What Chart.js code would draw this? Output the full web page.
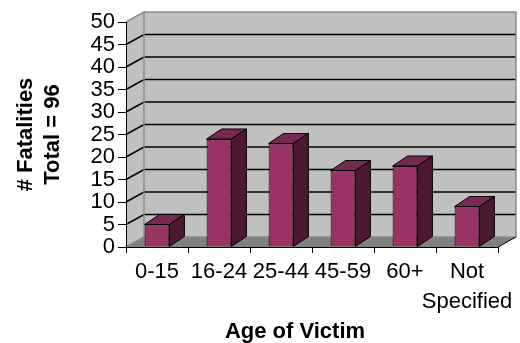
<!DOCTYPE html>
<html>
<head>
<meta charset="utf-8">
<script src="https://cdn.jsdelivr.net/npm/chart.js@4/dist/chart.umd.min.js"></script>
<style>
  html, body { margin: 0; padding: 0; background: #ffffff; }
  #wrap { width: 520px; height: 343px; }
</style>
</head>
<body>
<div id="wrap"><canvas id="chart" width="520" height="343"></canvas></div>
<script>
// Fatalities by age group of victim
const categories = ['0-15', '16-24', '25-44', '45-59', '60+', ['Not', 'Specified']];
const fatalities = [5, 24, 23, 17, 18, 9];
const yTitleLines = ['# Fatalities', 'Total = 96'];
const xTitle = 'Age of Victim';
const yMin = 0, yMax = 50, yStep = 5;

const FONT = '"Liberation Sans", Arial, sans-serif';
Chart.defaults.font.family = FONT;
Chart.defaults.color = '#000000';

// depth of the 3-D box (walls) and of each bar
const WALL = { dx: 18, dy: -10 };
const BAR = { dx: 15, dy: -10 };

function poly(ctx, pts, fill, stroke, lw) {
  ctx.beginPath();
  ctx.moveTo(pts[0][0], pts[0][1]);
  for (let i = 1; i < pts.length; i++) ctx.lineTo(pts[i][0], pts[i][1]);
  ctx.closePath();
  if (fill) { ctx.fillStyle = fill; ctx.fill(); }
  if (stroke) { ctx.strokeStyle = stroke; ctx.lineWidth = lw || 1; ctx.stroke(); }
}

const box3d = {
  id: 'box3d',
  beforeDraw(chart) {
    const { ctx, chartArea: { left, right, top, bottom }, scales: { y } } = chart;
    const dx = WALL.dx, dy = WALL.dy;
    ctx.save();
    // left side wall
    poly(ctx, [[left, top], [left + dx, top + dy], [left + dx, bottom + dy], [left, bottom]], '#c0c0c0', null);
    // back wall
    poly(ctx, [[left + dx, top + dy], [right + dx, top + dy], [right + dx, bottom + dy], [left + dx, bottom + dy]], '#c0c0c0', null);
    // floor
    poly(ctx, [[left, bottom], [right, bottom], [right + dx, bottom + dy], [left + dx, bottom + dy]], '#808080', null);

    // gridlines on both walls
    ctx.strokeStyle = '#000000';
    ctx.lineWidth = 1.5;
    for (let v = yMin + yStep; v < yMax; v += yStep) {
      const py = y.getPixelForValue(v);
      ctx.beginPath();
      ctx.moveTo(left, py);
      ctx.lineTo(left + dx, py + dy);
      ctx.lineTo(right + dx, py + dy);
      ctx.stroke();
    }

    // wall edges
    ctx.strokeStyle = '#8a8a8a';
    ctx.lineWidth = 1.5;
    ctx.beginPath();
    ctx.moveTo(left, top);
    ctx.lineTo(left + dx, top + dy);
    ctx.lineTo(right + dx, top + dy);
    ctx.lineTo(right + dx, bottom + dy);
    ctx.moveTo(left + dx, top + dy);
    ctx.lineTo(left + dx, bottom + dy);
    ctx.lineTo(left, bottom);
    ctx.moveTo(left + dx, bottom + dy);
    ctx.lineTo(right + dx, bottom + dy);
    ctx.stroke();

    // right edge of the floor
    ctx.strokeStyle = '#000000';
    ctx.lineWidth = 1;
    ctx.beginPath();
    ctx.moveTo(right, bottom);
    ctx.lineTo(right + dx, bottom + dy);
    ctx.stroke();
    ctx.restore();
  },
  afterDatasetsDraw(chart) {
    const { ctx } = chart;
    const meta = chart.getDatasetMeta(0);
    ctx.save();
    ctx.lineJoin = 'miter';
    meta.data.forEach(bar => {
      const { x, y, base, width } = bar.getProps(['x', 'y', 'base', 'width'], true);
      const l = x - width / 2, r = x + width / 2;
      // top face
      poly(ctx, [[l, y], [l + BAR.dx, y + BAR.dy], [r + BAR.dx, y + BAR.dy], [r, y]], '#782855', '#000000', 1);
      // side face
      poly(ctx, [[r, y], [r + BAR.dx, y + BAR.dy], [r + BAR.dx, base + BAR.dy], [r, base]], '#4b1932', '#000000', 1);
    });
    ctx.restore();
  },
  afterDraw(chart) {
    const { ctx } = chart;
    ctx.save();
    ctx.font = 'bold 22px ' + FONT;
    ctx.fillStyle = '#000000';
    ctx.textAlign = 'center';
    ctx.textBaseline = 'middle';
    ctx.fillText(xTitle, 295, 332);
    ctx.restore();
  }
};

new Chart(document.getElementById('chart'), {
  type: 'bar',
  data: {
    labels: categories,
    datasets: [{
      data: fatalities,
      backgroundColor: '#993366',
      borderColor: '#000000',
      borderWidth: 1,
      barPercentage: 0.4,
      categoryPercentage: 1.0
    }]
  },
  options: {
    responsive: false,
    animation: false,
    layout: { padding: { top: 22, right: 22, left: 0, bottom: 0 } },
    plugins: { legend: { display: false }, tooltip: { enabled: false }, title: { display: false } },
    scales: {
      x: {
        offset: true,
        grid: { display: true, drawOnChartArea: false, drawTicks: true, tickLength: 6, color: '#000000', offset: true },
        border: { display: true, color: '#000000', width: 1 },
        ticks: { color: '#000000', padding: 4, maxRotation: 0, autoSkip: false, font: { size: 22, lineHeight: '30px' } },
        afterFit(scale) { scale.height = 96; }
      },
      y: {
        min: yMin,
        max: yMax,
        grid: { display: true, drawOnChartArea: false, drawTicks: true, tickLength: 8, color: '#000000' },
        border: { display: true, color: '#000000', width: 1 },
        ticks: { stepSize: yStep, autoSkip: false, color: '#000000', padding: 3, font: { size: 22, lineHeight: 1.0 } },
        title: {
          display: true,
          text: yTitleLines,
          color: '#000000',
          font: { size: 22, weight: 'bold', lineHeight: 1.25 },
          padding: { top: 12, bottom: 0 }
        },
        afterFit(scale) { scale.width = 126; }
      }
    }
  },
  plugins: [box3d]
});
</script>
</body>
</html>
